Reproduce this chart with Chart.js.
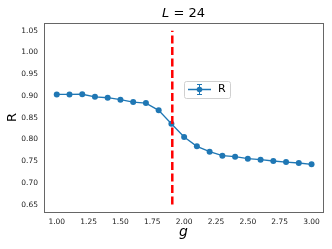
<!DOCTYPE html>
<html><head><meta charset="utf-8">
<script src="https://cdn.jsdelivr.net/npm/chart.js@4.4.0/dist/chart.umd.min.js"></script>
<style>html,body{margin:0;padding:0;background:#fff}#w{width:332px;height:249px}</style>
</head><body><div id="w"><canvas id="c" width="332" height="249"></canvas></div>
<script>
const gValues = [1.0,1.1,1.2,1.3,1.4,1.5,1.6,1.7,1.8,1.9,2.0,2.1,2.2,2.3,2.4,2.5,2.6,2.7,2.8,2.9,3.0];
const rValues = [0.9036,0.9036,0.904,0.898,0.896,0.8914,0.886,0.8837,0.8669,0.8362,0.8056,0.7841,0.7718,0.7626,0.7603,0.7557,0.7534,0.7504,0.748,0.7458,0.7427];
const criticalG = 1.907;
const criticalLineY = [0.65, 1.05];
const xTicks = [1.00,1.25,1.50,1.75,2.00,2.25,2.50,2.75,3.00];
const yTicks = [0.65,0.70,0.75,0.80,0.85,0.90,0.95,1.00,1.05];
const blue = '#1f77b4';

const textPlugin = {
  id: 'texts',
  afterDraw(chart) {
    const ctx = chart.ctx, a = chart.chartArea;
    ctx.save();
    ctx.fillStyle = '#000';
    const cx = (a.left + a.right) / 2;
    ctx.font = 'italic 13px "DejaVu Sans"';
    const wL = ctx.measureText('L').width;
    ctx.font = '13px "DejaVu Sans"';
    const wR = ctx.measureText(' = 24').width;
    const x0 = cx - (wL + wR) / 2;
    ctx.textBaseline = 'alphabetic';
    ctx.textAlign = 'left';
    ctx.font = 'italic 13px "DejaVu Sans"';
    ctx.fillText('L', x0, 17);
    ctx.font = '13px "DejaVu Sans"';
    ctx.fillText(' = 24', x0 + wL, 17);
    ctx.textAlign = 'center';
    ctx.font = 'italic 14px "DejaVu Sans"';
    ctx.fillText('g', cx, 236);
    ctx.translate(16, (a.top + a.bottom) / 2);
    ctx.rotate(-Math.PI / 2);
    ctx.font = '13px "DejaVu Sans"';
    ctx.textBaseline = 'alphabetic';
    ctx.fillText('R', 0, 0);
    ctx.restore();
    ctx.save();
    const lx = 184, ly = 81, lw = 46, lh = 17;
    ctx.fillStyle = 'rgba(255,255,255,0.8)';
    ctx.strokeStyle = '#d0d0d0';
    ctx.lineWidth = 1;
    ctx.beginPath();
    ctx.roundRect(lx + 0.5, ly + 0.5, lw, lh, 2);
    ctx.fill(); ctx.stroke();
    const my = 89.5;
    ctx.strokeStyle = blue; ctx.lineWidth = 1.5;
    ctx.beginPath(); ctx.moveTo(188, my); ctx.lineTo(211, my); ctx.stroke();
    ctx.lineWidth = 1;
    ctx.beginPath(); ctx.moveTo(199.5, my - 5); ctx.lineTo(199.5, my + 5);
    ctx.moveTo(197, my - 5); ctx.lineTo(202, my - 5);
    ctx.moveTo(197, my + 5); ctx.lineTo(202, my + 5); ctx.stroke();
    ctx.fillStyle = blue;
    ctx.beginPath(); ctx.arc(199.5, my, 2.8, 0, Math.PI * 2); ctx.fill();
    ctx.fillStyle = '#000';
    ctx.font = '11px "DejaVu Sans"';
    ctx.textBaseline = 'middle'; ctx.textAlign = 'left';
    ctx.fillText('R', 218, my);
    ctx.restore();
  }
};

new Chart(document.getElementById('c'), {
  type: 'scatter',
  data: {
    datasets: [
      {
        label: 'critical',
        data: criticalLineY.map(y => ({x: criticalG, y})),
        showLine: true,
        borderColor: '#ff0000',
        borderWidth: 2.5,
        borderDash: [8, 3.5],
        pointRadius: 0,
        order: 0
      },
      {
        label: 'R',
        data: gValues.map((g, i) => ({x: g, y: rValues[i]})),
        showLine: true,
        borderColor: blue,
        backgroundColor: blue,
        borderWidth: 1.3,
        pointRadius: 3,
        pointBorderWidth: 0,
        order: 1
      }
    ]
  },
  options: {
    responsive: false,
    animation: false,
    layout: {padding: {top: 23, right: 9, left: 0, bottom: 0}},
    plugins: {legend: {display: false}, tooltip: {enabled: false}, title: {display: false}},
    scales: {
      x: {
        type: 'linear', min: 0.9, max: 3.09,
        afterBuildTicks: s => { s.ticks = xTicks.map(v => ({value: v})); },
        afterFit: s => { s.height = 37; },
        grid: {display: false, drawTicks: true, tickLength: 3, tickColor: '#333'},
        border: {display: true, color: '#666', width: 1},
        ticks: {color: '#222', font: {family: 'DejaVu Sans', size: 7.5}, padding: 3, maxRotation: 0, autoSkip: false,
          callback: v => Number(v).toFixed(2)}
      },
      y: {
        type: 'linear', min: 0.633, max: 1.068,
        afterBuildTicks: s => { s.ticks = yTicks.map(v => ({value: v})); },
        afterFit: s => { s.width = 44; },
        grid: {display: false, drawTicks: true, tickLength: 3, tickColor: '#333'},
        border: {display: true, color: '#666', width: 1},
        ticks: {color: '#222', font: {family: 'DejaVu Sans', size: 7.5}, padding: 3, autoSkip: false,
          callback: v => Number(v).toFixed(2)}
      }
    }
  },
  plugins: [textPlugin, {
    id: 'frame',
    afterDraw(chart) {
      const ctx = chart.ctx, a = chart.chartArea;
      ctx.save();
      ctx.strokeStyle = '#666'; ctx.lineWidth = 1;
      ctx.strokeRect(Math.round(a.left) + 0.5, Math.round(a.top) + 0.5, Math.round(a.right - a.left), Math.round(a.bottom - a.top));
      ctx.restore();
    }
  }]
});
</script>
</body></html>
